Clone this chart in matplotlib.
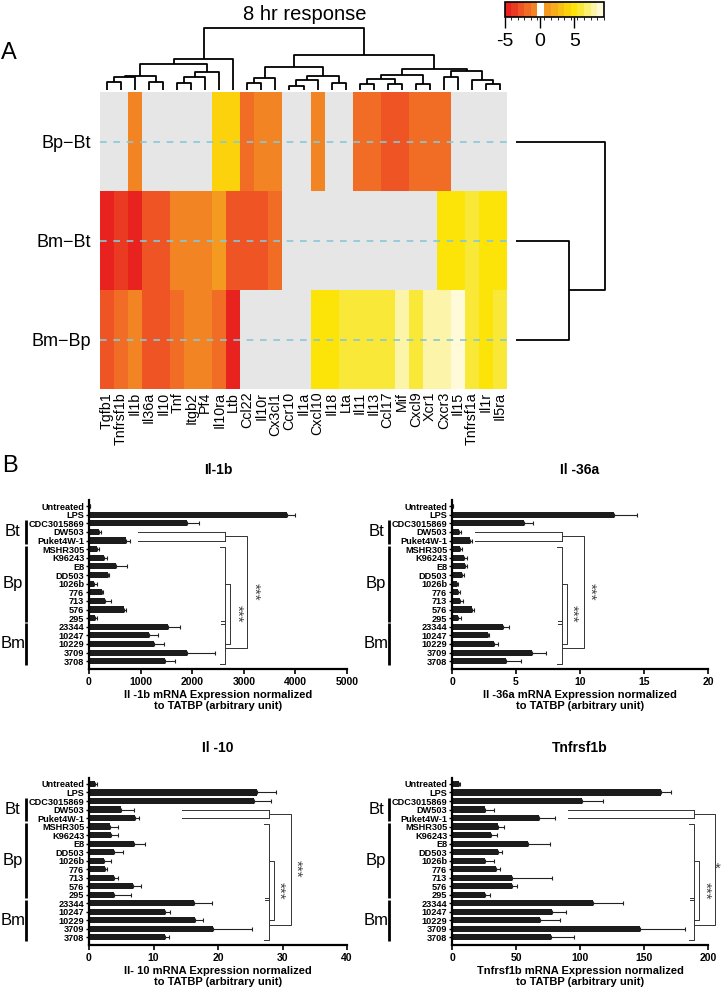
import numpy as np
import matplotlib
matplotlib.use("Agg")
import matplotlib.pyplot as plt
import matplotlib.transforms as mtransforms
from matplotlib.colors import ListedColormap, BoundaryNorm
from matplotlib.cm import ScalarMappable

plt.rcParams["font.family"] = ["Liberation Sans", "DejaVu Sans"]

W, H = 723, 992

# ---------------- panel A data ----------------
genes = ["Tgfb1", "Tnfrsf1b", "Il1b", "Il36a", "Il10", "Tnf", "Itgb2", "Pf4", "Il10ra", "Ltb",
         "Ccl22", "Il10r", "Cx3cl1", "Ccr10", "Il1a", "Cxcl10", "Il18", "Lta", "Il11", "Il13",
         "Ccl17", "Mif", "Cxcl9", "Xcr1", "Cxcr3", "Il15", "Tnfrsf1a", "Il1r", "Il5ra"]
contrasts = ["Bp\u2212Bt", "Bm\u2212Bt", "Bm\u2212Bp"]
nan = np.nan
bp_bt = [nan, nan, -0.8, nan, nan, nan, nan, nan, 4.0, 4.0,
         -1.7, -0.8, -0.8, nan, nan, -0.8, nan, nan, -1.7, -1.7,
         -2.7, -2.7, -1.7, -1.7, -1.7, nan, nan, nan, nan]
bm_bt = [-4.6, -3.6, -4.6, -3.0, -2.7, -0.8, -0.8, -0.8, 1.1, -3.0,
         -2.5, -2.5, -1.7, nan, nan, nan, nan, nan, nan, nan,
         nan, nan, nan, nan, 5.0, 5.0, 5.6, 5.0, 5.0]
bm_bp = [-2.7, -2.0, -1.0, -2.3, -2.3, -1.5, -0.6, -0.6, -1.6, -4.6,
         nan, nan, nan, nan, nan, 5.0, 5.0, 5.8, 5.8, 6.0,
         6.0, 7.8, 6.0, 7.5, 7.5, 9.0, 6.2, 5.0, 5.8]

# column clustering: (child a, child b, height); leaves 0..28, new nodes from 29
gene_links = [(0, 1, 25), (29, 2, 38), (3, 4, 25), (30, 31, 43), (5, 6, 20), (33, 7, 38),
              (34, 8, 53), (32, 35, 78), (36, 9, 92), (10, 11, 20), (38, 12, 35), (13, 14, 12),
              (40, 15, 30), (16, 17, 20), (41, 42, 43), (39, 43, 70), (18, 19, 17), (20, 21, 17),
              (45, 46, 32), (22, 23, 17), (47, 48, 45), (24, 25, 40), (27, 28, 17), (26, 51, 30),
              (50, 52, 57), (49, 53, 63), (44, 54, 105), (37, 55, 187)]
row_links = [(1, 2, 53), (0, 3, 89)]

heat_bounds = [-5, -4.07, -3.13, -2.2, -1.27, -0.33, 0.67, 1.63, 2.59, 3.54, 4.5, 5.46, 6.42, 7.38, 8.34, 9.3]
heat_colors = ["#e8221e", "#eb3a22", "#ee5424", "#f16c24", "#f38424", "#ffffff",
               "#f59a20", "#f7ac1c", "#f9c014", "#fbd20c", "#fde408", "#fae838",
               "#fbf070", "#fcf4a8", "#fffbd8"]

# ---------------- panel B data ----------------
strains = ["Untreated", "LPS", "CDC3015869", "DW503", "Puket4W-1", "MSHR305", "K96243", "E8",
           "DD503", "1026b", "776", "713", "576", "295", "23344", "10247", "10229", "3709", "3708"]
groups = [("Bt", 2, 4), ("Bp", 5, 13), ("Bm", 14, 18)]

il1b_mean = [15, 3844, 1890, 197, 717, 149, 291, 523, 375, 103, 258, 310, 678, 123,
             1525, 1163, 1266, 1893, 1479]
il1b_err = [10, 150, 240, 35, 78, 50, 64, 220, 20, 46, 20, 110, 33, 38,
            239, 181, 187, 549, 188]
il36a_mean = [0.05, 12.65, 5.66, 0.57, 1.38, 0.65, 0.96, 0.99, 0.78, 0.36, 0.49, 0.65, 1.58, 0.47,
              3.97, 2.81, 3.32, 6.23, 4.23]
il36a_err = [0.03, 1.82, 0.70, 0.13, 0.18, 0.13, 0.21, 0.18, 0.16, 0.11, 0.11, 0.18, 0.16, 0.21,
             0.45, 0.10, 0.24, 1.12, 1.15]
il10_mean = [0.88, 26.1, 25.6, 4.97, 7.1, 3.32, 3.37, 7.0, 3.83, 2.38, 2.44, 3.89, 6.84, 3.83,
             16.3, 11.8, 16.5, 19.2, 11.8]
il10_err = [0.36, 2.9, 2.6, 2.08, 0.62, 1.18, 1.09, 1.65, 1.45, 1.09, 0.36, 0.61, 1.29, 2.65,
            2.7, 0.8, 1.1, 6.0, 0.6]
tnf_mean = [5.75, 162.9, 101.4, 26.1, 68.0, 35.8, 30.6, 59.3, 35.8, 25.4, 34.0, 47.1, 47.1, 25.4,
            109.8, 78.4, 68.5, 146.9, 77.4]
tnf_err = [0.75, 8.3, 16.8, 6.6, 12.3, 4.7, 4.2, 17.3, 3.4, 7.8, 3.4, 31.3, 3.9, 3.9,
           23.5, 10.5, 15.9, 34.8, 18.0]


def draw_dendrogram(ax, links, n_leaves, horizontal=False):
    pos = {i: (i + 0.5, 0.0) for i in range(n_leaves)}
    for k, (a, b, h) in enumerate(links):
        xa, ya = pos[a]
        xb, yb = pos[b]
        xs = [xa, xa, xb, xb]
        ys = [ya, h, h, yb]
        if horizontal:
            ax.plot(ys, xs, color="black", lw=1.3, solid_capstyle="butt")
        else:
            ax.plot(xs, ys, color="black", lw=1.3, solid_capstyle="butt")
        pos[n_leaves + k] = ((xa + xb) / 2, h)
    ax.axis("off")


def fig_rect(x0, y0, x1, y1):
    return [x0 / W, 1 - y1 / H, (x1 - x0) / W, (y1 - y0) / H]


fig = plt.figure(figsize=(W / 100, H / 100), dpi=100)

# ---------------- heatmap ----------------
cmap = ListedColormap(heat_colors)
cmap.set_bad("#e6e6e6")
norm = BoundaryNorm(heat_bounds, cmap.N)

ax_h = fig.add_axes(fig_rect(100, 92, 507, 389))
data = np.ma.masked_invalid(np.array([bp_bt, bm_bt, bm_bp]))
ax_h.pcolormesh(np.arange(len(genes) + 1), np.arange(len(contrasts) + 1), data,
                cmap=cmap, norm=norm)
ax_h.set_xlim(0, len(genes))
ax_h.set_ylim(len(contrasts), 0)
for r in range(len(contrasts)):
    ax_h.axhline(r + 0.5, color="#86c9d6", lw=1.2, ls=(0, (4, 4)))
ax_h.set_xticks(np.arange(len(genes)) + 0.5)
ax_h.set_xticklabels(genes, rotation=90, fontsize=10.3)
ax_h.set_yticks(np.arange(len(contrasts)) + 0.5)
ax_h.set_yticklabels(contrasts, fontsize=13)
ax_h.tick_params(length=0, pad=2)
ax_h.tick_params(axis="y", pad=6.5)
for s in ax_h.spines.values():
    s.set_visible(False)

ax_dt = fig.add_axes(fig_rect(100, 27, 507, 90))
draw_dendrogram(ax_dt, gene_links, len(genes))
ax_dt.set_xlim(0, len(genes))
ax_dt.set_ylim(0, 190)

ax_dr = fig.add_axes(fig_rect(516, 92, 610, 389))
draw_dendrogram(ax_dr, row_links, len(contrasts), horizontal=True)
ax_dr.set_xlim(0, 94)
ax_dr.set_ylim(len(contrasts), 0)

cax = fig.add_axes(fig_rect(505, 2, 604, 17))
cb = fig.colorbar(ScalarMappable(norm=norm, cmap=cmap), cax=cax, orientation="horizontal",
                  spacing="proportional", ticks=[-5, 0, 5])
cb.ax.tick_params(labelsize=14, length=8, width=1)
cb.ax.set_xticklabels(["-5", "0", "5"])
cb.outline.set_linewidth(1.2)

fig.text(304.5 / W, 1 - 14 / H, "8 hr response", fontsize=14.5, ha="center", va="center")
fig.text(9 / W, 1 - 53 / H, "A", fontsize=17, ha="center", va="center")
fig.text(10 / W, 1 - 466 / H, "B", fontsize=17, ha="center", va="center")

# ---------------- bar panels ----------------
panels = [
    dict(rect=(89, 500, 347, 669), title="Il-1b", mean=il1b_mean, err=il1b_err,
         xmax=5000, step=1000, xlabel="Il -1b mRNA Expression normalized\nto TATBP (arbitrary unit)",
         br=dict(start=950, big=2640, mid=2730, outer=3060, smid=2870, sout=3200, outer_star="***")),
    dict(rect=(452, 500, 708, 669), title="Il -36a", mean=il36a_mean, err=il36a_err,
         xmax=20, step=5, xlabel="Il -36a mRNA Expression normalized\nto TATBP (arbitrary unit)",
         br=dict(start=1.8, big=8.6, mid=9.0, outer=10.3, smid=9.4, sout=10.75, outer_star="***")),
    dict(rect=(89, 778, 347, 945), title="Il -10", mean=il10_mean, err=il10_err,
         xmax=40, step=10, xlabel="Il- 10 mRNA Expression normalized\nto TATBP (arbitrary unit)",
         br=dict(start=14.4, big=27.9, mid=28.7, outer=31.3, smid=29.5, sout=32.1, outer_star="***")),
    dict(rect=(452, 778, 708, 945), title="Tnfrsf1b", mean=tnf_mean, err=tnf_err,
         xmax=200, step=50, xlabel="Tnfrsf1b mRNA Expression normalized\nto TATBP (arbitrary unit)",
         br=dict(start=91, big=189, mid=193, outer=205.5, smid=197.5, sout=207.5, outer_star="*")),
]

ypos = np.arange(len(strains))
for p in panels:
    x0, y0, x1, y1 = p["rect"]
    ax = fig.add_axes(fig_rect(x0, y0, x1, y1))
    mean = np.array(p["mean"])
    err = np.array(p["err"])
    ax.barh(ypos, mean, height=0.72, color="#1c1c1c",
            xerr=[np.zeros_like(err), err], error_kw=dict(ecolor="#222222", elinewidth=0.8,
                                                         capsize=1.6, capthick=0.8))
    ax.set_ylim(len(strains) - 0.1, -0.7)
    ax.set_xlim(0, p["xmax"])
    ax.set_xticks(np.arange(0, p["xmax"] + p["step"] / 2, p["step"]))
    ax.set_yticks(ypos)
    ax.set_yticklabels(strains, fontsize=6.6, fontweight="bold")
    for lab in ax.get_xticklabels():
        lab.set_fontweight("bold")
        lab.set_fontsize(7.5)
    ax.tick_params(axis="y", length=2.5, width=1, pad=1)
    ax.tick_params(axis="x", length=3.5, width=1.2, pad=2)
    for s in ["top", "right"]:
        ax.spines[s].set_visible(False)
    for s in ["left", "bottom"]:
        ax.spines[s].set_linewidth(1.6)
    ax.set_xlabel(p["xlabel"], fontsize=8, fontweight="bold", labelpad=2.5, linespacing=1.1)
    ax.set_title(p["title"], fontsize=10, fontweight="bold", pad=19)

    # strain groups
    width_px = x1 - x0
    trans = mtransforms.blended_transform_factory(ax.transAxes, ax.transData)
    for name, r0, r1 in groups:
        ax.plot([-63 / width_px] * 2, [r0 - 0.4, r1 + 0.4], color="black", lw=2,
                transform=trans, clip_on=False, solid_capstyle="butt")
        ax.text(-76 / width_px, (r0 + r1) / 2, name, fontsize=12, ha="center", va="center",
                transform=trans)

    # significance brackets
    b = p["br"]
    kw = dict(color="#333333", lw=0.7, clip_on=False)
    tick = p["xmax"] * 0.02
    ax.plot([b["start"], b["big"]], [3, 3], **kw)
    ax.plot([b["start"], b["big"]], [4, 4], **kw)
    ax.plot([b["big"], b["big"]], [3, 4], **kw)
    ax.plot([b["big"] - tick, b["big"], b["big"], b["big"] - tick], [4.7, 4.7, 18.3, 18.3], **kw)
    ax.plot([b["big"] - tick * 0.8, b["big"]], [13.35, 13.35], **kw)
    ax.plot([b["big"] - tick * 0.8, b["big"]], [13.65, 13.65], **kw)
    ax.plot([b["big"], b["mid"], b["mid"], b["big"]], [9, 9, 16, 16], **kw)
    ax.plot([b["big"], b["outer"], b["outer"], b["big"]], [3.5, 3.5, 16.5, 16.5], **kw)
    ax.text(b["smid"], 12.5, "***", rotation=270, fontsize=11, color="#444444",
            ha="center", va="center", clip_on=False)
    if len(b["outer_star"]) > 1:
        ax.text(b["sout"], 10.0, b["outer_star"], rotation=270, fontsize=11, color="#444444",
                ha="center", va="center", clip_on=False)
    else:
        ax.text(b["sout"], 10.0, b["outer_star"], fontsize=11, color="#444444",
                ha="center", va="center", clip_on=False)

fig.savefig("out.png", dpi=100)
